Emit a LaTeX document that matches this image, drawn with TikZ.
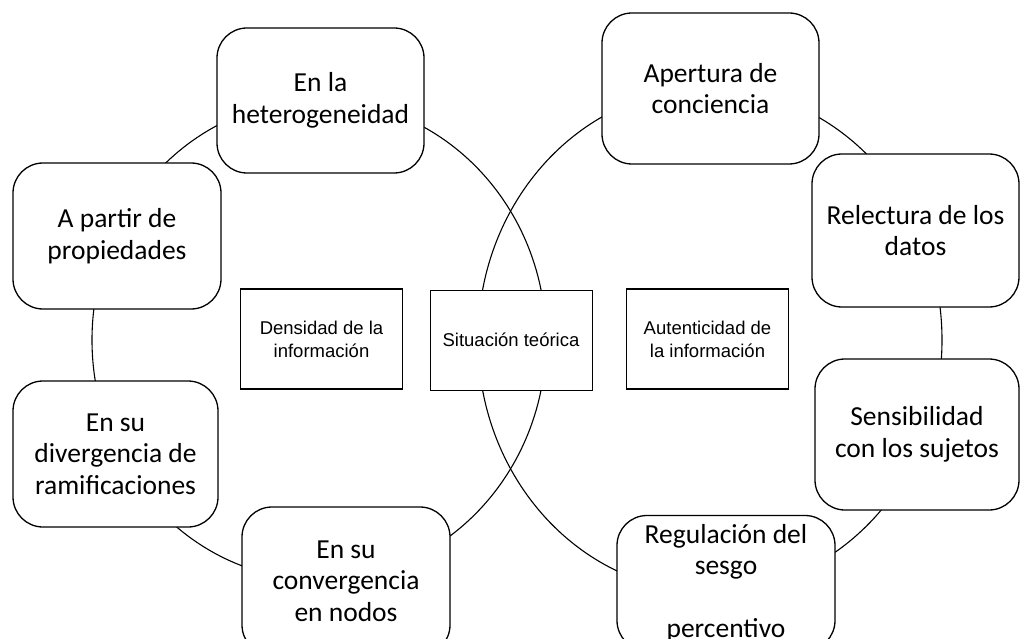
\documentclass[tikz,border=0pt]{standalone}
\usepackage{fontspec}
\setmainfont{Carlito}
\newfontfamily\arialf{Liberation Sans}
\begin{document}
\begin{tikzpicture}[x=1pt,y=-1pt,
  rbox/.style={draw, line width=1.3pt, rounded corners=30pt, fill=white, align=center,
    font=\fontsize{27.5}{31.5}\selectfont, inner sep=0pt},
  cbox/.style={draw, fill=white, align=center, font=\arialf\fontsize{18.5}{23}\selectfont,
    inner sep=0pt, minimum width=162pt, minimum height=100pt},
  ring/.style={line width=1.1pt}]
\useasboundingbox (0,0) rectangle (1020,639);
\clip (0,0) rectangle (1020,639);
\draw[ring] (319,340) ellipse [x radius=227pt, y radius=240pt];
\draw[ring] (710,340) ellipse [x radius=232pt, y radius=252pt];
\node[rbox, minimum width=207pt, minimum height=145pt] (het) at (320.5,100.5) {En la\\heterogeneidad};
\node[rbox, minimum width=208pt, minimum height=146pt] (par) at (117,236) {A partir de\\propiedades};
\node[rbox, minimum width=205pt, minimum height=146pt] (div) at (115.5,454) {En su\\divergencia de\\ramificaciones};
\node[rbox, minimum width=208pt, minimum height=148pt] (con) at (346,581) {En su\\convergencia\\en nodos};
\node[rbox, minimum width=217pt, minimum height=151pt] (ape) at (710.5,88.5) {Apertura de\\conciencia};
\node[rbox, minimum width=207pt, minimum height=153pt] (rel) at (915.5,230.5) {Relectura de los\\datos};
\node[rbox, minimum width=204pt, minimum height=151pt] (sen) at (917,434.5) {Sensibilidad\\con los sujetos};
\node[rbox, minimum width=218pt, minimum height=135pt] (reg) at (726,583) {Regulación del\\sesgo\\[31.5pt]percentivo};
\node[cbox, line width=1.8pt] (den) at (321.5,339) {Densidad de la\\información};
\node[cbox, line width=0.9pt] (sit) at (511,340) {Situación teórica};
\node[cbox, line width=1.8pt] (aut) at (707.5,339) {Autenticidad de\\la información};
\end{tikzpicture}
\end{document}
